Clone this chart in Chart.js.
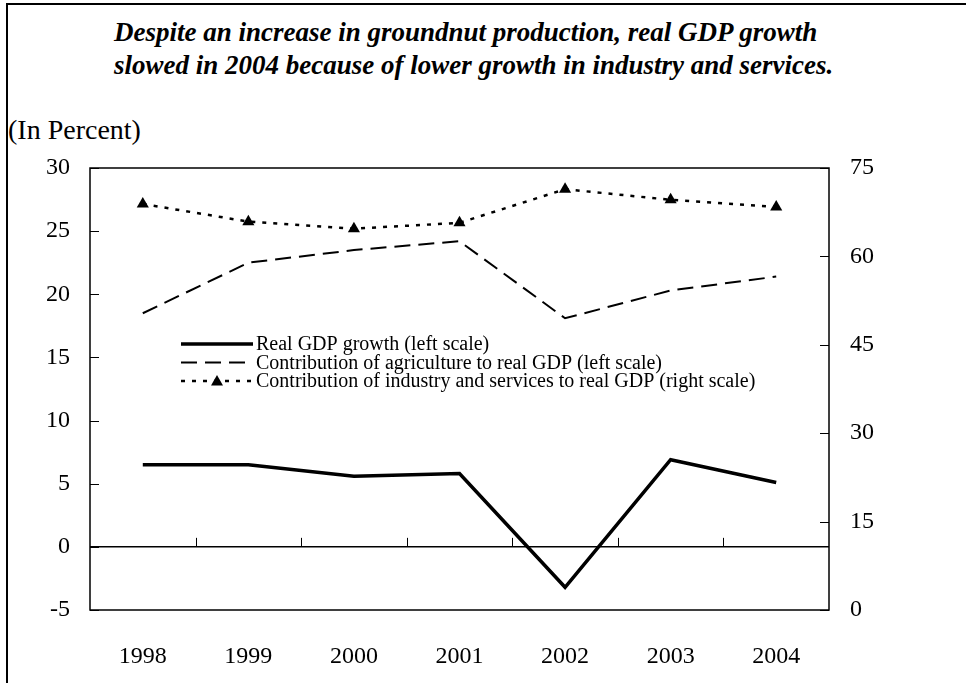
<!DOCTYPE html>
<html>
<head>
<meta charset="utf-8">
<title>Real GDP growth and sector contributions, 1998-2004</title>
<script src="https://cdn.jsdelivr.net/npm/chart.js@4.4.1/dist/chart.umd.min.js"></script>
<style>
  html, body { margin: 0; padding: 0; background: #fff; }
  #wrap { position: relative; width: 966px; height: 683px; overflow: hidden; }
  #frame {
    position: absolute; left: 6px; top: 3px; right: -10px; bottom: -10px;
    border-top: 2px solid #000; border-left: 2px solid #000;
  }
  .title {
    position: absolute; left: 114px; margin: 0; white-space: nowrap; line-height: 32px;
    font: italic bold 27px "Liberation Serif", "Times New Roman", serif; color: #000;
  }
  #unit {
    position: absolute; left: 8px; top: 114px; white-space: nowrap; line-height: 34px;
    font: 28px "Liberation Serif", "Times New Roman", serif; color: #000;
  }
  #chart { position: absolute; left: 0; top: 0; }
</style>
</head>
<body>
<div id="wrap">
  <div id="frame"></div>
  <div class="title" style="top:17px">Despite an increase in groundnut production, real GDP growth</div>
  <div class="title" style="top:50px">slowed in 2004 because of lower growth in industry and services.</div>
  <div id="unit">(In Percent)</div>
  <canvas id="chart" width="966" height="683"></canvas>
</div>
<script>
  'use strict';

  // Data
  const years = ['1998', '1999', '2000', '2001', '2002', '2003', '2004'];
  const realGdpGrowth = [6.5, 6.5, 5.6, 5.8, -3.2, 6.9, 5.1];          // left scale
  const agricultureContribution = [18.5, 22.5, 23.5, 24.2, 18.1, 20.3, 21.4]; // left scale
  const industryServicesContribution = [68.9, 65.9, 64.7, 65.7, 71.4, 69.6, 68.4]; // right scale

  const leftTicks = [-5, 0, 5, 10, 15, 20, 25, 30];
  const rightTicks = [0, 15, 30, 45, 60, 75];

  const legendLabels = [
    'Real GDP growth (left scale)',
    'Contribution of agriculture to real GDP (left scale)',
    'Contribution of industry and services to real GDP (right scale)'
  ];

  const serif = '"Liberation Serif", "Times New Roman", serif';

  /**
   * Plot frame, inward tick marks and the in-plot legend
   */
  const framePlugin = {
    id: 'framePlugin',
    afterDatasetsDraw(chart) {
      const { ctx, chartArea: a, scales } = chart;
      ctx.save();
      ctx.strokeStyle = '#000';
      ctx.lineWidth = 1.5;
      ctx.strokeRect(a.left, a.top, a.right - a.left, a.bottom - a.top);

      ctx.lineWidth = 1;
      ctx.beginPath();
      leftTicks.forEach(v => {
        const y = Math.round(scales.y.getPixelForValue(v)) + 0.5;
        ctx.moveTo(a.left, y);
        ctx.lineTo(a.left + 9, y);
      });
      rightTicks.forEach(v => {
        const y = Math.round(scales.y1.getPixelForValue(v)) + 0.5;
        ctx.moveTo(a.right - 9, y);
        ctx.lineTo(a.right, y);
      });
      // category boundary ticks sit on the zero line
      const zeroY = scales.y.getPixelForValue(0);
      for (let i = 0; i < years.length - 1; i++) {
        const x = Math.round((scales.x.getPixelForValue(i) + scales.x.getPixelForValue(i + 1)) / 2) + 0.5;
        ctx.moveTo(x, zeroY);
        ctx.lineTo(x, zeroY - 9);
      }
      ctx.stroke();

      // legend
      const x0 = 181, x1 = 253, tx = 256;
      const rows = [344, 362.5, 381];
      ctx.font = '20px ' + serif;
      ctx.textBaseline = 'middle';
      ctx.fillStyle = '#000';
      chart.data.datasets.forEach((ds, i) => {
        const y = rows[i];
        ctx.beginPath();
        ctx.lineWidth = ds.borderWidth;
        ctx.setLineDash(ds.borderDash || []);
        ctx.moveTo(x0, y);
        ctx.lineTo(x1, y);
        ctx.stroke();
        ctx.setLineDash([]);
        if (ds.pointStyle === 'triangle') {
          const cx = (x0 + x1) / 2, r = 6;
          ctx.beginPath();
          ctx.moveTo(cx, y - r);
          ctx.lineTo(cx + r, y + r * 0.75);
          ctx.lineTo(cx - r, y + r * 0.75);
          ctx.closePath();
          ctx.fill();
        }
        ctx.fillText(legendLabels[i], tx, y + 1);
      });
      ctx.restore();
    }
  };

  new Chart(document.getElementById('chart'), {
    type: 'line',
    data: {
      labels: years,
      datasets: [
        {
          label: legendLabels[0],
          data: realGdpGrowth,
          yAxisID: 'y',
          borderColor: '#000',
          borderWidth: 3.5,
          pointRadius: 0,
          tension: 0
        },
        {
          label: legendLabels[1],
          data: agricultureContribution,
          yAxisID: 'y',
          borderColor: '#000',
          borderWidth: 2,
          borderDash: [16, 8],
          pointRadius: 0,
          tension: 0
        },
        {
          label: legendLabels[2],
          data: industryServicesContribution,
          yAxisID: 'y1',
          borderColor: '#000',
          borderWidth: 2.5,
          borderDash: [4, 7],
          pointStyle: 'triangle',
          pointRadius: 7,
          pointBackgroundColor: '#000',
          pointBorderColor: '#000',
          pointBorderWidth: 0,
          tension: 0
        }
      ]
    },
    options: {
      responsive: false,
      animation: false,
      layout: { padding: { top: 168, left: 0, right: 0, bottom: 0 } },
      plugins: {
        legend: { display: false },
        tooltip: { enabled: false }
      },
      scales: {
        x: {
          offset: true,
          grid: { display: false },
          border: { display: false },
          ticks: { color: '#000', padding: 24, maxRotation: 0, font: { family: serif, size: 24 } },
          afterFit(scale) { scale.height = 73; }
        },
        y: {
          position: 'left',
          min: -5,
          max: 30,
          afterBuildTicks(scale) { scale.ticks = leftTicks.map(v => ({ value: v })); },
          grid: {
            drawTicks: false,
            color: ctx => (ctx.tick && ctx.tick.value === 0 ? '#000' : 'rgba(0,0,0,0)'),
            lineWidth: 1.5
          },
          border: { display: false },
          ticks: { color: '#000', padding: 20, font: { family: serif, size: 24 } },
          afterFit(scale) { scale.width = 90; }
        },
        y1: {
          position: 'right',
          min: 0,
          max: 75,
          afterBuildTicks(scale) { scale.ticks = rightTicks.map(v => ({ value: v })); },
          grid: { display: false, drawTicks: false },
          border: { display: false },
          ticks: { color: '#000', padding: 21, font: { family: serif, size: 24 } },
          afterFit(scale) { scale.width = 137; }
        }
      }
    },
    plugins: [framePlugin]
  });
</script>
</body>
</html>
